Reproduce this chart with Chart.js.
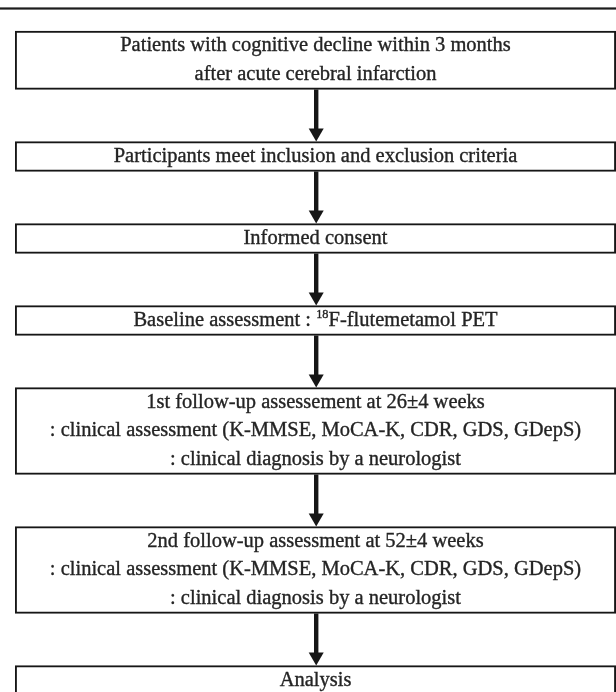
<!DOCTYPE html>
<html><head><meta charset="utf-8">
<script src="https://cdn.jsdelivr.net/npm/chart.js@4.4.1/dist/chart.umd.min.js"></script>
<style>html,body{margin:0;padding:0;background:#fff;}canvas{display:block;}</style>
</head><body>
<canvas id="c" width="616" height="692"></canvas>
<script>
// Flow steps (text lines per box); ^..^ marks superscript
const step1 = ["Patients with cognitive decline within 3 months", "after acute cerebral infarction"];
const step2 = ["Participants meet inclusion and exclusion criteria"];
const step3 = ["Informed consent"];
const step4 = ["Baseline assessment : ^18^F-flutemetamol PET"];
const step5 = ["1st follow-up assessement at 26\u00b14 weeks", ": clinical assessment (K-MMSE, MoCA-K, CDR, GDS, GDepS)", ": clinical diagnosis by a neurologist"];
const step6 = ["2nd follow-up assessment at 52\u00b14 weeks", ": clinical assessment (K-MMSE, MoCA-K, CDR, GDS, GDepS)", ": clinical diagnosis by a neurologist"];
const step7 = ["Analysis"];
const steps = [step1, step2, step3, step4, step5, step6, step7];

// layout constants (scale units = canvas pixels on the hidden y axis)
const FLOW_TOP = 31, GAP = 52, LINE_H = 28.5, BOX_PAD = 1.5, RULE_Y = 8.5;
const FONT = '"Liberation Serif", "Times New Roman", serif';
const FONT_SIZE = 20.5;
const TEXT_COLOR = '#242424';
const INK = '#161616';

let cursor = FLOW_TOP;
const spans = steps.map(lines => {
  const top = cursor;
  const bottom = top + lines.length * LINE_H + BOX_PAD;
  cursor = bottom + GAP;
  return [top, bottom];
});

function drawRichLine(ctx, text, cx, cy) {
  const parts = text.split('^');
  const segs = parts.map((t, i) => ({ t, sup: i % 2 === 1 }));
  const normal = FONT_SIZE + 'px ' + FONT;
  const small = (FONT_SIZE * 0.6) + 'px ' + FONT;
  let total = 0;
  segs.forEach(s => { ctx.font = s.sup ? small : normal; s.w = ctx.measureText(s.t).width; total += s.w; });
  let x = cx - total / 2;
  ctx.textAlign = 'left';
  ctx.textBaseline = 'middle';
  ctx.lineWidth = 0.35;
  ctx.strokeStyle = TEXT_COLOR;
  segs.forEach(s => {
    ctx.font = s.sup ? small : normal;
    const yy = s.sup ? cy - FONT_SIZE * 0.3 : cy;
    ctx.fillText(s.t, x, yy);
    ctx.strokeText(s.t, x, yy);
    x += s.w;
  });
}

const flowPlugin = {
  id: 'flow',
  beforeDatasetsDraw(chart) {
    const ctx = chart.ctx;
    const y = chart.scales.y.getPixelForValue(RULE_Y);
    ctx.save();
    ctx.fillStyle = '#1c1c1c';
    ctx.fillRect(0, y - 1.1, chart.width, 2.2);
    ctx.restore();
  },
  afterDatasetsDraw(chart) {
    const ctx = chart.ctx;
    const meta = chart.getDatasetMeta(0);
    const boxes = meta.data.map(b => {
      const p = b.getProps(['x', 'y', 'base'], true);
      return { x: p.x, top: Math.min(p.y, p.base), bottom: Math.max(p.y, p.base) };
    });
    ctx.save();
    // arrows
    ctx.fillStyle = INK;
    for (let i = 0; i < boxes.length - 1; i++) {
      const a = boxes[i], b = boxes[i + 1];
      const cx = a.x + 0.7;
      const headH = 13, headW = 15, shaftW = 4.4;
      ctx.fillRect(cx - shaftW / 2, a.bottom, shaftW, (b.top - headH) - a.bottom + 1);
      ctx.beginPath();
      ctx.moveTo(cx - headW / 2, b.top - headH);
      ctx.lineTo(cx + headW / 2, b.top - headH);
      ctx.lineTo(cx, b.top);
      ctx.closePath();
      ctx.fill();
    }
    // text
    ctx.fillStyle = TEXT_COLOR;
    boxes.forEach((bx, i) => {
      const lines = steps[i];
      const mid = (bx.top + bx.bottom) / 2;
      lines.forEach((ln, j) => {
        drawRichLine(ctx, ln, bx.x, mid + (j - (lines.length - 1) / 2) * LINE_H);
      });
    });
    ctx.restore();
  }
};

new Chart(document.getElementById('c'), {
  type: 'bar',
  data: {
    labels: ['flow'],
    datasets: [{
      data: spans.map(s => ({ x: 'flow', y: [s[0], s[1]] })),
      backgroundColor: '#ffffff',
      borderColor: INK,
      borderWidth: 2.2,
      borderSkipped: false,
      barPercentage: 1,
      categoryPercentage: 1
    }]
  },
  options: {
    responsive: false,
    animation: false,
    devicePixelRatio: 1,
    layout: { padding: { left: 15, right: 0, top: 0, bottom: 0 } },
    plugins: { legend: { display: false }, tooltip: { enabled: false } },
    scales: {
      x: { display: false },
      y: { display: false, min: 0, max: 692, reverse: true }
    }
  },
  plugins: [flowPlugin]
});
</script>
</body></html>
